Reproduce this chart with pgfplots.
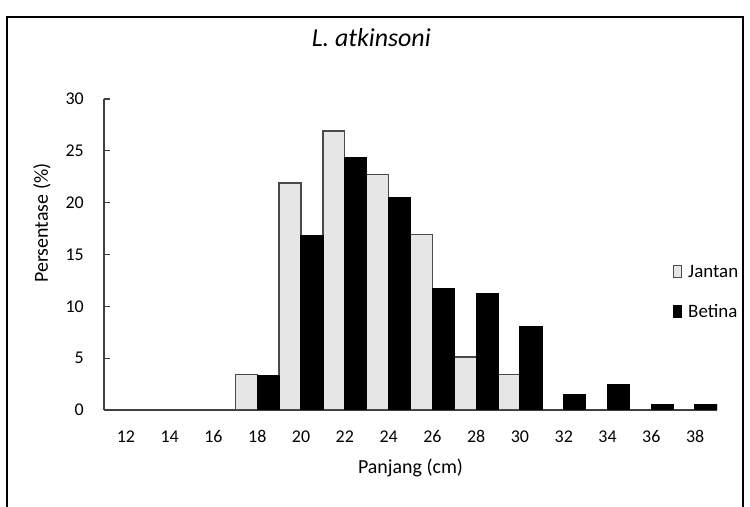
\documentclass[border=0pt]{standalone}
\usepackage{pgfplots}
\pgfplotsset{compat=1.18}
\usepackage{fontspec}
\setmainfont{Carlito}
\definecolor{jfill}{HTML}{E6E6E6}
\definecolor{jdraw}{HTML}{4A4A4A}
\definecolor{axcol}{HTML}{404040}
\begin{document}
\begin{tikzpicture}
\begin{axis}[
  name=ax,
  scale only axis, width=613bp, height=311bp,
  xmin=11, xmax=39, ymin=0, ymax=30,
  ybar, bar width=1,
  axis x line*=bottom, axis y line*=left,
  axis line style={axcol, line width=1.2bp},
  xtick={12,14,...,38},
  xticklabels={12,14,16,18,20,22,24,26,28,30,32,34,36,38},
  x tick style={draw=none},
  ytick={0,5,...,30},
  tick align=inside,
  y tick style={axcol, line width=1.2bp},
  major tick length=6bp,
  /pgf/number format/assume math mode=true,
  tick label style={font=\fontsize{18}{20}\selectfont, text=black},
  xticklabel style={anchor=base, inner sep=0pt, yshift=-33bp},
  yticklabel style={anchor=east, inner sep=0pt, xshift=-20bp},
  xlabel={Panjang (cm)},
  ylabel={Persentase (\%)},
  label style={font=\fontsize{20}{22}\selectfont},
  xlabel style={at={(axis description cs:0.5,-0.185)}, anchor=center},
  ylabel style={at={(axis description cs:-0.101,0.601)}, anchor=center},
  title={\itshape L. atkinsoni},
  title style={at={(axis description cs:0.436,1.178)}, anchor=center, font=\fontsize{26}{28}\selectfont},
  legend style={draw=none, fill=none, at={(axis description cs:0.928,0.473)}, anchor=north west,
    inner sep=0pt, font=\fontsize{19}{21}\selectfont, row sep=22bp,
    legend cell align=left},
  legend image code/.code={\draw[#1, line width=1bp] (0bp,-6bp) rectangle (8bp,6bp); \path (12bp,0bp);},
]
\addplot[bar shift=-0.5, fill=jfill, draw=jdraw, line width=1.3bp] coordinates {
 (18,3.4) (20,21.9) (22,26.9) (24,22.7) (26,16.9) (28,5.1) (30,3.4)};
\addlegendentry{Jantan}
\addplot[bar shift=0.5, fill=black, draw=black, line width=1.3bp] coordinates {
 (18,3.3) (20,16.8) (22,24.3) (24,20.5) (26,11.7) (28,11.2) (30,8.0) (32,1.5) (34,2.4) (36,0.5) (38,0.5)};
\addlegendentry{Betina}
\end{axis}
\pgfresetboundingbox
\begin{scope}[shift={(ax.south west)}, x=1bp, y=1bp]
\path[use as bounding box] (-104,-97) rectangle (646,410);
\draw[line width=2.5bp,black] (-97,-102) -- (-97,393) -- (639,393) -- (639,-102);
\end{scope}
\end{tikzpicture}
\end{document}
